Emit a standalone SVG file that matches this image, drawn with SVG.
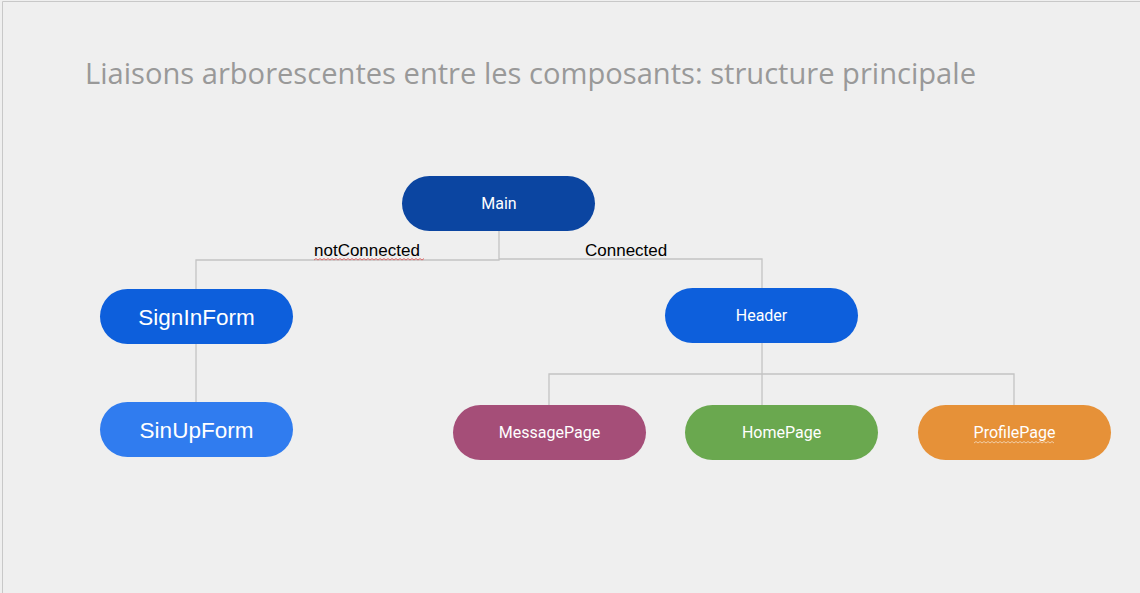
<svg xmlns="http://www.w3.org/2000/svg" width="1140" height="593" viewBox="0 0 1140 593">
<style>
.bg{fill:#efefef}
.conn{fill:none;stroke:#c3c3c3;stroke-width:1.3}
.n text{fill:#fff;text-anchor:middle;dominant-baseline:central}
.sm{font-family:Roboto,"Liberation Sans",sans-serif;font-size:16px}
.lg{font-family:"Liberation Sans",Arial,sans-serif;font-size:22.5px}
.lbl{font-family:"Liberation Sans",Arial,sans-serif;font-size:17px;fill:#000}
.sq{fill:none;stroke-width:0.8}
</style>
<rect class="bg" x="0" y="0" width="1140" height="593"/>
<path d="M2.5 593 V1.5 H1140" fill="none" stroke="#c8c8c8" stroke-width="1"/>
<text x="85" y="84" font-family="'Open Sans','DejaVu Sans',sans-serif" font-size="30" fill="#999999" textLength="891" lengthAdjust="spacingAndGlyphs">Liaisons arborescentes entre les composants: structure principale</text>
<g id="connectors">
<path class="conn" d="M499 231 V260 H196 V289"/>
<path class="conn" d="M499 259 H762 V288"/>
<path class="conn" d="M196 344 V402"/>
<path class="conn" d="M762 343 V405"/>
<path class="conn" d="M549 405 V374 H1014 V405"/>
<text class="lbl" x="314" y="256">notConnected</text>
<text class="lbl" x="585" y="256">Connected</text>
<path class="sq" stroke="#e05050" d="M314 260 l2 -1.5 l2 1.5 l2 -1.5 l2 1.5 l2 -1.5 l2 1.5 l2 -1.5 l2 1.5 l2 -1.5 l2 1.5 l2 -1.5 l2 1.5 l2 -1.5 l2 1.5 l2 -1.5 l2 1.5 l2 -1.5 l2 1.5 l2 -1.5 l2 1.5 l2 -1.5 l2 1.5 l2 -1.5 l2 1.5 l2 -1.5 l2 1.5 l2 -1.5 l2 1.5 l2 -1.5 l2 1.5 l2 -1.5 l2 1.5 l2 -1.5 l2 1.5 l2 -1.5 l2 1.5 l2 -1.5 l2 1.5 l2 -1.5 l2 1.5 l2 -1.5 l2 1.5 l2 -1.5 l2 1.5 l2 -1.5 l2 1.5 l2 -1.5 l2 1.5 l2 -1.5 l2 1.5 l2 -1.5 l2 1.5 l2 -1.5 l2 1.5 l2 -1.5"/>
</g>
<g id="main" class="n"><rect x="402" y="176" width="193" height="55" rx="27.5" fill="#0b45a1"/><text class="sm" x="499" y="203.5">Main</text></g>
<g id="signinform" class="n"><rect x="100" y="289" width="193" height="55" rx="27.5" fill="#0d5fdc"/><text class="lg" x="196.5" y="317.5">SignInForm</text></g>
<g id="sinupform" class="n"><rect x="100" y="402" width="193" height="55" rx="27.5" fill="#307cef"/><text class="lg" x="196.5" y="430.5">SinUpForm</text></g>
<g id="header" class="n"><rect x="665" y="288" width="193" height="55" rx="27.5" fill="#0d5fdc"/><text class="sm" x="761.5" y="315.5">Header</text></g>
<g id="messagepage" class="n"><rect x="453" y="405" width="193" height="55" rx="27.5" fill="#a54e78"/><text class="sm" x="549.5" y="432.5">MessagePage</text></g>
<g id="homepage" class="n"><rect x="685" y="405" width="193" height="55" rx="27.5" fill="#6aa84f"/><text class="sm" x="781.5" y="432.5">HomePage</text></g>
<g id="profilepage" class="n"><rect x="918" y="405" width="193" height="55" rx="27.5" fill="#e69138"/><text class="sm" x="1014.5" y="432.5">ProfilePage</text>
<path class="sq" stroke="#f5dcc0" d="M974 443 l2 -1.5 l2 1.5 l2 -1.5 l2 1.5 l2 -1.5 l2 1.5 l2 -1.5 l2 1.5 l2 -1.5 l2 1.5 l2 -1.5 l2 1.5 l2 -1.5 l2 1.5 l2 -1.5 l2 1.5 l2 -1.5 l2 1.5 l2 -1.5 l2 1.5 l2 -1.5 l2 1.5 l2 -1.5 l2 1.5 l2 -1.5 l2 1.5 l2 -1.5 l2 1.5 l2 -1.5 l2 1.5 l2 -1.5 l2 1.5 l2 -1.5 l2 1.5 l2 -1.5 l2 1.5 l2 -1.5 l2 1.5 l2 -1.5 l2 1.5"/></g>
</svg>
